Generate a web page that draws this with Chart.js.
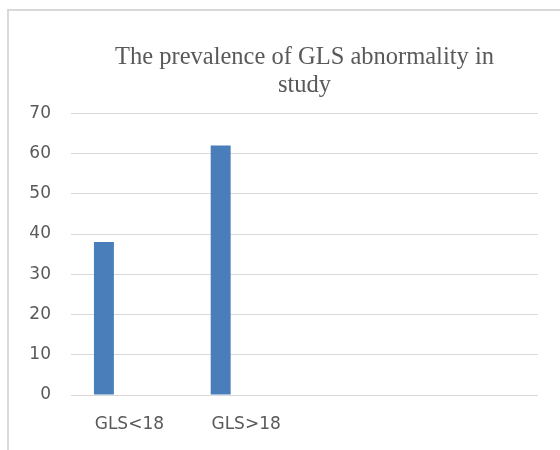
<!DOCTYPE html>
<html>
<head>
<meta charset="utf-8">
<script src="https://cdn.jsdelivr.net/npm/chart.js@4"></script>
<style>
html,body{margin:0;padding:0;background:#fff;overflow:hidden;}
#frame{position:absolute;left:7px;top:9px;width:600px;height:500px;border:2px solid #d9d9d9;}
#wrap{position:absolute;left:0;top:0;width:560px;height:450px;}
</style>
</head>
<body>
<div id="frame"></div>
<div id="wrap"><canvas id="myChart" width="560" height="450"></canvas></div>
<script>
let categories=['GLS<18','GLS>18','',''];
let series1=[38,62,null,null];
let series2=[null,null,null,null];
let yTicks=[0,10,20,30,40,50,60,70];
let titleLines=['The prevalence of GLS abnormality in','study'];

const ctx=document.getElementById('myChart').getContext('2d');
const myChart=new Chart(ctx,{
    type:'bar',
    data:{
        labels:categories,
        datasets:[{
            label:'Series1',
            data:series1,
            backgroundColor:'#4a7ebb',
            categoryPercentage:0.872,
            barPercentage:0.392
        },{
            label:'Series2',
            data:series2,
            backgroundColor:'#c0504d',
            categoryPercentage:0.872,
            barPercentage:0.392
        }]
    },
    options:{
        responsive:false,
        animation:false,
        layout:{padding:{left:0,right:22,top:0,bottom:0}},
        plugins:{
            legend:{display:false},
            tooltip:{enabled:false},
            title:{
                display:true,
                fullSize:false,
                text:titleLines,
                color:'#595959',
                font:{family:'Liberation Serif',size:24.5,weight:'normal',lineHeight:1.15},
                padding:{top:43,bottom:14}
            }
        },
        scales:{
            x:{
                grid:{display:false,drawTicks:false},
                border:{display:false},
                ticks:{color:'#595959',font:{family:'DejaVu Sans',size:17},padding:19,maxRotation:0},
                afterFit:(s)=>{s.height=55;}
            },
            y:{
                min:0,
                max:70,
                afterBuildTicks:(s)=>{s.ticks=yTicks.map(v=>({value:v}));},
                grid:{color:'#d9d9d9',lineWidth:1,drawTicks:false},
                border:{display:false},
                ticks:{color:'#595959',font:{family:'DejaVu Sans',size:17},padding:20},
                afterFit:(s)=>{s.width=71;}
            }
        }
    }
});
</script>
</body>
</html>
